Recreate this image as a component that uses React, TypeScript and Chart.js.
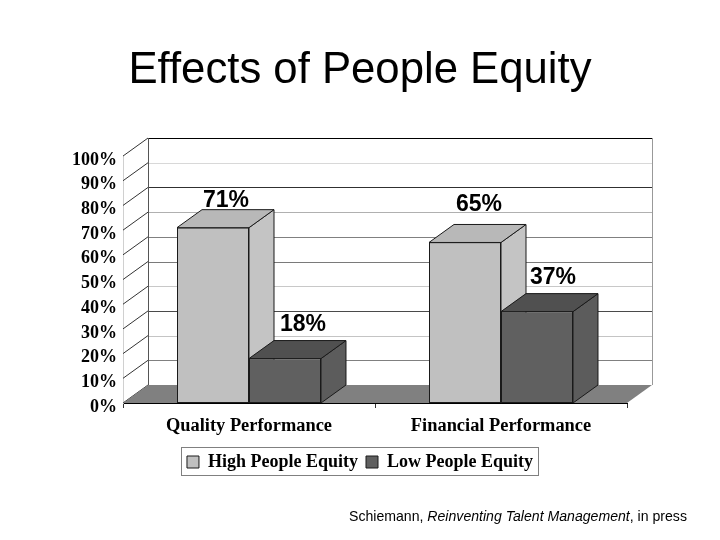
import React, { useEffect, useRef } from "react";
import { Chart, registerables } from "chart.js";

Chart.register(...registerables);

const categories = ["Quality Performance", "Financial Performance"];
const highEquity = [71, 65];
const lowEquity = [18, 37];
const yTicks = [0, 10, 20, 30, 40, 50, 60, 70, 80, 90, 100];
const gridShades = ["#808080", "#c4c4c4", "#4a4a4a", "#c8c8c8", "#7a7a7a", "#808080", "#b0b0b0", "#303030", "#d8d8d8", "#000000"];

const DEPTH_X = 25;
const DEPTH_Y = 18;
const LABEL_SHIFTS = [[[13, 9], [18, 16]], [[14, 20], [16, 16]]];
const SHADES = [
  { front: "#c0c0c0", side: "#c4c4c4", top: "#b8b8b8" },
  { front: "#606060", side: "#5c5c5c", top: "#505050" },
];
const EDGE = "#1a1a1a";

function poly(ctx: CanvasRenderingContext2D, pts: number[][], fill: string | null, stroke: string | null) {
  ctx.beginPath();
  pts.forEach((p, i) => (i ? ctx.lineTo(p[0], p[1]) : ctx.moveTo(p[0], p[1])));
  ctx.closePath();
  if (fill) { ctx.fillStyle = fill; ctx.fill(); }
  if (stroke) { ctx.strokeStyle = stroke; ctx.lineWidth = 1; ctx.stroke(); }
}

function line(ctx: CanvasRenderingContext2D, x1: number, y1: number, x2: number, y2: number, color: string) {
  ctx.beginPath();
  ctx.moveTo(x1, y1);
  ctx.lineTo(x2, y2);
  ctx.strokeStyle = color;
  ctx.lineWidth = 1;
  ctx.stroke();
}

const scene = {
  id: "scene",
  beforeDraw(chart: any) {
    const yScale = chart.scales.y;
    yScale.getLabelItems(chart.chartArea).forEach((item: any) => {
      if (!item.shifted) { item.textOffset += 4; item.shifted = true; }
    });
  },
  beforeDatasetsDraw(chart: any) {
    const { ctx, chartArea: a, scales } = chart;
    const base = scales.y.getPixelForValue(0);
    const top = scales.y.getPixelForValue(100);
    ctx.save();
    poly(ctx, [[a.left + DEPTH_X, top - DEPTH_Y], [a.right + DEPTH_X, top - DEPTH_Y], [a.right + DEPTH_X, base - DEPTH_Y], [a.left + DEPTH_X, base - DEPTH_Y]], "#ffffff", null);
    yTicks.slice(1).forEach((v, i) => {
      const y = Math.round(scales.y.getPixelForValue(v) - DEPTH_Y) + 0.5;
      line(ctx, a.left + DEPTH_X, y, a.right + DEPTH_X, y, gridShades[i]);
    });
    line(ctx, a.right + DEPTH_X + 0.5, top - DEPTH_Y, a.right + DEPTH_X + 0.5, base - DEPTH_Y, "#999999");
    line(ctx, a.left + DEPTH_X + 0.5, top - DEPTH_Y, a.left + DEPTH_X + 0.5, base - DEPTH_Y, "#555555");
    yTicks.forEach((v) => {
      const y = scales.y.getPixelForValue(v);
      line(ctx, a.left, y, a.left + DEPTH_X, y - DEPTH_Y, "#333333");
    });
    poly(ctx, [[a.left, base], [a.left + DEPTH_X, base - DEPTH_Y], [a.right + DEPTH_X, base - DEPTH_Y], [a.right, base]], "#808080", null);
    // side and top faces, back series first; the library then draws the fronts over them
    chart.data.datasets.forEach((_: any, d: number) => {
      const shade = SHADES[d];
      chart.getDatasetMeta(d).data.forEach((bar: any) => {
        const p = bar.getProps(["x", "y", "base", "width"], true);
        const l = p.x - p.width / 2;
        const r = p.x + p.width / 2;
        poly(ctx, [[r, p.y], [r + DEPTH_X, p.y - DEPTH_Y], [r + DEPTH_X, p.base - DEPTH_Y], [r, p.base]], shade.side, EDGE);
        poly(ctx, [[l, p.y], [l + DEPTH_X, p.y - DEPTH_Y], [r + DEPTH_X, p.y - DEPTH_Y], [r, p.y]], shade.top, EDGE);
      });
    });
    ctx.restore();
  },
  afterDatasetsDraw(chart: any) {
    const { ctx } = chart;
    ctx.save();
    ctx.font = "bold 23px 'Liberation Sans'";
    ctx.fillStyle = "#000000";
    ctx.textAlign = "center";
    ctx.textBaseline = "middle";
    chart.data.datasets.forEach((ds: any, d: number) => {
      chart.getDatasetMeta(d).data.forEach((bar: any, i: number) => {
        const p = bar.getProps(["x", "y"], true);
        const [dx, dy] = LABEL_SHIFTS[i][d];
        ctx.fillText(`${ds.data[i]}%`, p.x + dx, p.y - DEPTH_Y - dy);
      });
    });
    ctx.restore();
  },
  afterDraw(chart: any) {
    const { ctx, legend } = chart;
    const boxes = legend.legendHitBoxes;
    const left = Math.min(...boxes.map((b: any) => b.left)) - 6;
    const right = Math.max(...boxes.map((b: any) => b.left + b.width)) + 5;
    ctx.save();
    ctx.strokeStyle = "#808080";
    ctx.lineWidth = 1;
    ctx.strokeRect(Math.round(left) + 0.5, Math.round(legend.top) + 2.5, Math.round(right - left), Math.round(legend.height) - 8);
    ctx.restore();
  },
};

export default function App() {
  const ref = useRef<HTMLCanvasElement>(null);
  useEffect(() => {
    const chart = new Chart(ref.current as HTMLCanvasElement, {
      type: "bar",
      data: {
        labels: categories,
        datasets: [
          { label: "High People Equity", data: highEquity, backgroundColor: SHADES[0].front, borderColor: EDGE, borderWidth: 1, borderSkipped: false },
          { label: "Low People Equity", data: lowEquity, backgroundColor: SHADES[1].front, borderColor: EDGE, borderWidth: 1, borderSkipped: false },
        ],
      },
      plugins: [scene],
      options: {
        animation: false,
        responsive: false,
        datasets: { bar: { categoryPercentage: 0.5714, barPercentage: 1 } },
        layout: { padding: { left: 0, right: 0, top: 0, bottom: 59 } },
        plugins: {
          title: {
            display: true,
            text: "Effects of People Equity",
            color: "#000000",
            font: { family: "'Liberation Sans'", size: 43.7, weight: "normal", lineHeight: 1.2 },
            padding: { top: 44.8, bottom: 58.8 },
          },
          legend: {
            position: "bottom",
            labels: {
              color: "#000000",
              font: { family: "'Liberation Serif'", size: 18, weight: "bold", lineHeight: 0.667 },
              boxWidth: 12,
              boxHeight: 12,
              padding: 8,
            },
          },
          tooltip: { enabled: false },
        },
        scales: {
          x: {
            grid: { drawOnChartArea: false, drawTicks: true, tickLength: 5, tickColor: "#333333", offset: true },
            border: { color: "#000000" },
            ticks: { color: "#000000", padding: 7, maxRotation: 0, font: { family: "'Liberation Serif'", size: 18.4, weight: "bold" } },
            afterFit(scale: any) { scale.height = 42; },
          },
          y: {
            min: 0,
            max: 100,
            grid: { display: false, drawTicks: false },
            border: { color: "#d0d0d0" },
            ticks: {
              stepSize: 10,
              autoSkip: false,
              color: "#000000",
              padding: 6,
              font: { family: "'Liberation Serif'", size: 18, weight: "bold" },
              callback: (v: any) => `${v}%`,
            },
            afterFit(scale: any) { scale.width = 123; },
          },
          margin: {
            position: "right",
            min: 0,
            max: 1,
            grid: { display: false, drawTicks: false },
            border: { display: false },
            ticks: { display: false },
            afterFit(scale: any) { scale.width = 93; },
          },
        },
      } as any,
    });
    return () => chart.destroy();
  }, []);
  return (
    <div style={{ position: "absolute", left: 0, top: 0, width: 720, height: 540, background: "#ffffff" }}>
      <canvas ref={ref} width={720} height={540} style={{ display: "block" }} />
      <div style={{ position: "absolute", left: 349, top: 508, whiteSpace: "nowrap", color: "#000", font: "14.1px/16px 'Liberation Sans'" }}>
        Schiemann, <i>Reinventing Talent Management</i>, in press
      </div>
    </div>
  );
}
